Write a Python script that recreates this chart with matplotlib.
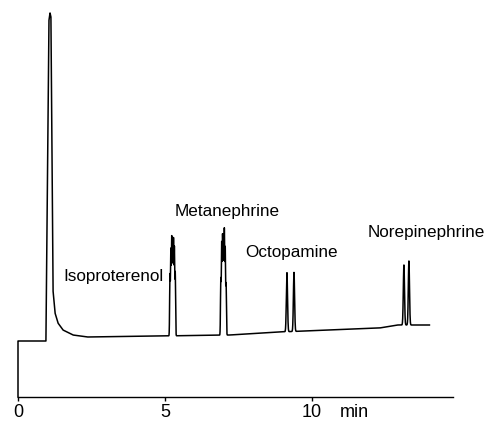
import numpy as np
import matplotlib
matplotlib.use("Agg")
import matplotlib.pyplot as plt

plt.rcParams['font.family'] = ['Liberation Sans', 'DejaVu Sans']

# baseline / solvent front (time in min, signal in arbitrary units)
base_t = [0.00, 0.95, 1.05, 1.09, 1.12, 1.19, 1.26, 1.36, 1.53, 1.87, 2.35,
          4.80, 7.20, 8.90, 12.30, 12.90, 14.00]
base_v = [56, 56, 376, 384, 380, 107, 84, 74, 67, 62, 60,
          61, 62, 65, 69, 72, 72]

# analyte peaks: retention time, height above baseline, width (sigma)
# isoproterenol and metanephrine show up as tight bundles of pen spikes
peak_t = [5.17, 5.20, 5.23, 5.26, 5.29, 5.32, 5.35,
          6.90, 6.93, 6.96, 6.99, 7.02, 7.05, 7.08,
          9.15, 9.39, 13.13, 13.30]
peak_h = [60, 84, 96, 90, 94, 86, 62,
          55, 90, 97, 92, 103, 85, 50,
          59, 59, 60, 64]
peak_w = [0.011] * 14 + [0.02] * 4

# compound labels (left edge time, baseline height)
names = ['Isoproterenol', 'Metanephrine', 'Octopamine', 'Norepinephrine']
name_t = [1.53, 5.34, 7.72, 11.90]
name_v = [116, 181, 140, 160]

xticks = [0, 5, 10]

t = np.arange(0, 14.0, 0.002)
sig = np.interp(t, base_t, base_v)
for rt, h, w in zip(peak_t, peak_h, peak_w):
    sig = sig + h * np.exp(-0.5 * ((t - rt) / w) ** 2)
t = np.r_[0, t]
sig = np.r_[0, sig]

fig = plt.figure(figsize=(4.85, 4.28), dpi=100)
ax = fig.add_axes([18 / 485, 31 / 428, 435 / 485, 397 / 428])
ax.plot(t, sig, color='black', lw=1.1, clip_on=False)

for n, x, y in zip(names, name_t, name_v):
    ax.text(x, y, n, fontsize=12.3, ha='left', va='baseline')

ax.set_xlim(0, 14.8)
ax.set_ylim(0, 397)
for s in ['top', 'right', 'left']:
    ax.spines[s].set_visible(False)
ax.spines['bottom'].set_linewidth(1.0)
ax.set_yticks([])
ax.set_xticks(xticks)
ax.set_xticklabels([str(v) for v in xticks])
ax.tick_params(axis='x', direction='out', length=3, width=1, pad=2, labelsize=13)
ax.annotate('min', xy=(10.95, 0), xycoords=('data', 'axes fraction'),
            xytext=(0, -5), textcoords='offset points',
            ha='left', va='top', fontsize=13)

fig.savefig('out.png', dpi=100)
